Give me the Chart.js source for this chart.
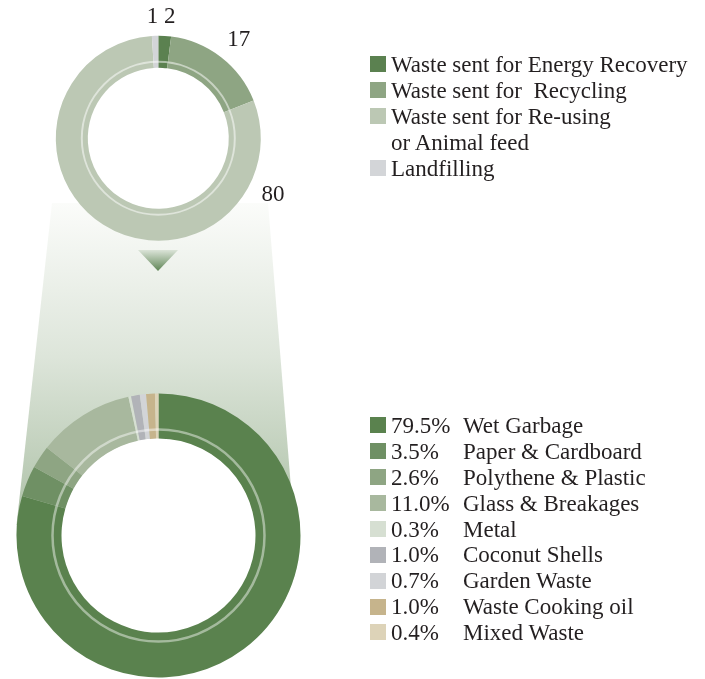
<!DOCTYPE html>
<html>
<head>
<meta charset="utf-8">
<script src="https://cdn.jsdelivr.net/npm/chart.js@4/dist/chart.umd.min.js"></script>
<style>
  html, body { margin: 0; padding: 0; background: #ffffff; }
  #wrap { position: relative; width: 705px; height: 679px; overflow: hidden; }
  #wrap canvas { position: absolute; left: 0; top: 0; }
  .txt { position: absolute; font-family: "Liberation Serif", "Times New Roman", serif; font-size: 23px; line-height: 26px; color: #231f20; white-space: pre; }
  .sw { position: absolute; width: 16px; height: 16px; }
</style>
</head>
<body>
<div id="wrap">
  <canvas id="compositionChart" width="705" height="679"></canvas>
  <canvas id="disposalChart" width="705" height="679"></canvas>
  <div id="legends"></div>
</div>
<script>
// Where the waste goes (percent of total)
const disposalLabels = ['Waste sent for Energy Recovery', 'Waste sent for  Recycling', ['Waste sent for Re-using', 'or Animal feed'], 'Landfilling'];
const disposalValues = [2, 17, 80, 1];
const disposalColors = ['#5b8150', '#8ea583', '#bcc8b4', '#d3d5d8'];

// What the waste is made of (percent of total)
const wasteLabels = ['Wet Garbage', 'Paper & Cardboard', 'Polythene & Plastic', 'Glass & Breakages', 'Metal', 'Coconut Shells', 'Garden Waste', 'Waste Cooking oil', 'Mixed Waste'];
const wasteShares = [79.5, 3.5, 2.6, 11.0, 0.3, 1.0, 0.7, 1.0, 0.4];
const wasteColors = ['#5a824e', '#6f9064', '#8ea583', '#a8b89e', '#d6dfd2', '#b1b3b8', '#d2d4d7', '#c6b48c', '#ddd3b8'];

const W = 705, H = 679;
const FONT = '23px "Liberation Serif", "Times New Roman", serif';

// padding that puts the centre of the chart area at (cx, cy)
function centredAt(cx, cy) {
  return {
    left: Math.max(0, 2 * cx - W),
    right: Math.max(0, W - 2 * cx),
    top: Math.max(0, 2 * cy - H),
    bottom: Math.max(0, H - 2 * cy)
  };
}

// white hole plus a thin translucent circle running inside each ring
const ringLine = {
  id: 'ringLine',
  beforeDatasetsDraw(chart, args, opts) {
    const arc = chart.getDatasetMeta(0).data[0];
    if (!arc) return;
    const ctx = chart.ctx;
    ctx.save();
    ctx.beginPath();
    ctx.arc(arc.x, arc.y, arc.innerRadius + 0.5, 0, Math.PI * 2);
    ctx.fillStyle = '#ffffff';
    ctx.fill();
    ctx.restore();
  },
  afterDatasetsDraw(chart, args, opts) {
    const arc = chart.getDatasetMeta(0).data[0];
    if (!arc) return;
    const ctx = chart.ctx;
    ctx.save();
    ctx.beginPath();
    ctx.arc(arc.x, arc.y, opts.radius, 0, Math.PI * 2);
    ctx.strokeStyle = opts.color;
    ctx.lineWidth = opts.width;
    ctx.stroke();
    ctx.restore();
  }
};

// value labels around the upper ring
const sliceLabels = {
  id: 'sliceLabels',
  afterDatasetsDraw(chart, args, opts) {
    const meta = chart.getDatasetMeta(0);
    const values = chart.data.datasets[0].data;
    const ctx = chart.ctx;
    ctx.save();
    ctx.font = FONT;
    ctx.fillStyle = '#231f20';
    ctx.textAlign = 'center';
    ctx.textBaseline = 'alphabetic';
    meta.data.forEach((arc, i) => {
      const p = opts.placement[i];
      const a = p.deg * Math.PI / 180;
      const x = arc.x + Math.sin(a) * p.r;
      const y = arc.y - Math.cos(a) * p.r;
      ctx.fillText(String(values[i]), x, y + 7.6);
    });
    ctx.restore();
  }
};

// shaded funnel and arrow linking the two rings
const funnel = {
  id: 'funnel',
  beforeDatasetsDraw(chart) {
    const ctx = chart.ctx;
    ctx.save();
    const g = ctx.createLinearGradient(0, 203, 0, 510);
    g.addColorStop(0, '#fbfcfa');
    g.addColorStop(0.5, '#dde5da');
    g.addColorStop(1, '#b1c4ab');
    ctx.fillStyle = g;
    ctx.beginPath();
    ctx.moveTo(52, 203);
    ctx.lineTo(268, 203);
    ctx.lineTo(294, 525);
    ctx.lineTo(16.5, 525);
    ctx.closePath();
    ctx.fill();

    const ga = ctx.createLinearGradient(0, 250, 0, 271);
    ga.addColorStop(0, '#dbe4d8');
    ga.addColorStop(1, '#5f8555');
    ctx.fillStyle = ga;
    ctx.beginPath();
    ctx.moveTo(138, 250);
    ctx.lineTo(178, 250);
    ctx.lineTo(158, 271);
    ctx.closePath();
    ctx.fill();
    ctx.restore();
  }
};

function draw() {
  new Chart(document.getElementById('compositionChart'), {
    type: 'doughnut',
    data: {
      labels: wasteLabels,
      datasets: [{ data: wasteShares, backgroundColor: wasteColors, borderWidth: 0 }]
    },
    options: {
      responsive: false,
      animation: false,
      events: [],
      radius: 142,
      cutout: (97 / 142 * 100) + '%',
      layout: { padding: centredAt(158.5, 535.5) },
      plugins: {
        legend: { display: false },
        tooltip: { enabled: false },
        ringLine: { radius: 106, width: 2.5, color: 'rgba(255,255,255,0.45)' }
      }
    },
    plugins: [funnel, ringLine]
  });

  new Chart(document.getElementById('disposalChart'), {
    type: 'doughnut',
    data: {
      labels: disposalLabels,
      datasets: [{ data: disposalValues, backgroundColor: disposalColors, borderWidth: 0 }]
    },
    options: {
      responsive: false,
      animation: false,
      events: [],
      radius: 102.5,
      cutout: (70.5 / 102.5 * 100) + '%',
      layout: { padding: centredAt(158.3, 138.3) },
      plugins: {
        legend: { display: false },
        tooltip: { enabled: false },
        ringLine: { radius: 76.5, width: 2, color: 'rgba(255,255,255,0.5)' },
        sliceLabels: {
          placement: [
            { deg: 5.3, r: 123.5 },
            { deg: 38.9, r: 128 },
            { deg: 115.8, r: 127.4 },
            { deg: -2.7, r: 123.1 }
          ]
        }
      }
    },
    plugins: [ringLine, sliceLabels]
  });

  // legends
  const host = document.getElementById('legends');
  function add(cls, x, y, text, color) {
    const el = document.createElement('div');
    el.className = cls;
    el.style.left = x + 'px';
    el.style.top = y + 'px';
    if (text !== undefined) el.textContent = text;
    if (color) el.style.background = color;
    host.appendChild(el);
  }

  let row = 0;
  disposalLabels.forEach((lab, i) => {
    const lines = Array.isArray(lab) ? lab : [lab];
    const cy = 64 + row * 26;
    add('sw', 370, cy - 8, undefined, disposalColors[i]);
    lines.forEach((ln, k) => add('txt', 391, cy + k * 26 - 12.3, ln));
    row += lines.length;
  });

  wasteLabels.forEach((lab, i) => {
    const cy = 425.2 + i * 25.9;
    add('sw', 370, cy - 8, undefined, wasteColors[i]);
    add('txt', 391, cy - 12.3, wasteShares[i].toFixed(1) + '%');
    add('txt', 463, cy - 12.3, lab);
  });
}

if (document.fonts && document.fonts.load) {
  document.fonts.load(FONT).then(draw, draw);
} else {
  draw();
}
</script>
</body>
</html>
